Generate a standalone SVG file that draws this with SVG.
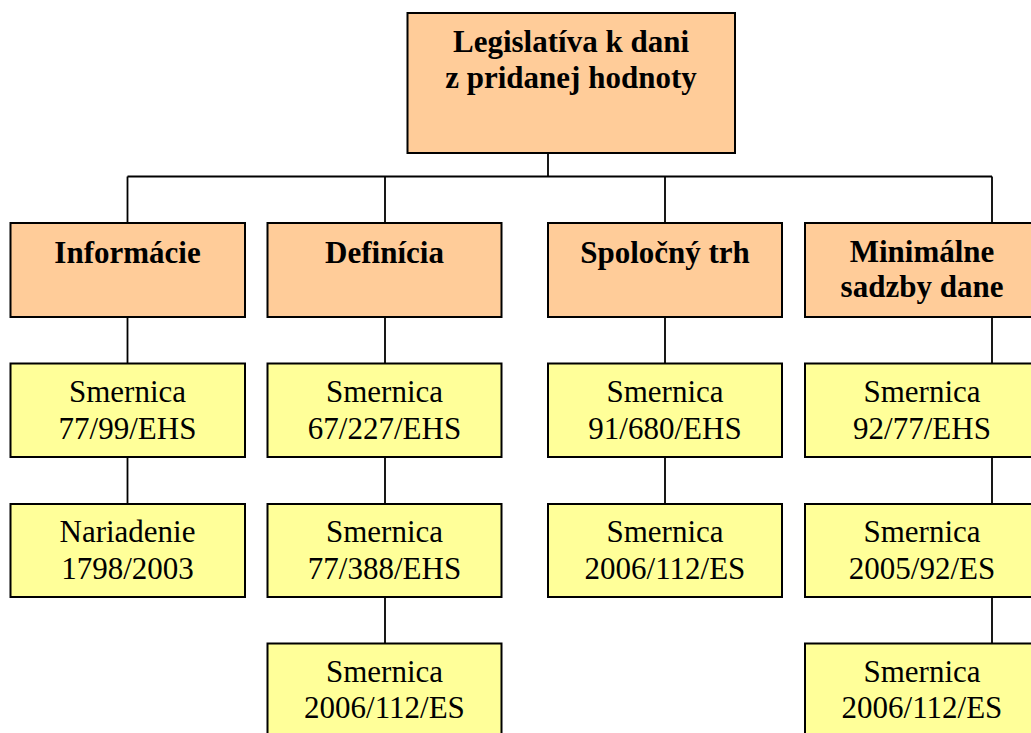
<svg xmlns="http://www.w3.org/2000/svg" width="1031" height="733" viewBox="0 0 1031 733">
<style>
.o{fill:#FFCC99;stroke:#000;stroke-width:2}
.y{fill:#FFFF99;stroke:#000;stroke-width:2}
.b{font-family:"Liberation Serif","Times New Roman",serif;font-weight:bold;font-size:31px;text-anchor:middle;fill:#000}
.r{font-family:"Liberation Serif","Times New Roman",serif;font-size:31px;text-anchor:middle;fill:#000}
.c{stroke:#000;stroke-width:1.8;fill:none}
</style>
<rect width="1031" height="733" fill="#fff"/>
<g id="connectors" class="c">
<path d="M548 153V176.5M127.5 176.5H992M127.5 176.5V223M385 176.5V223M665 176.5V223M992 176.5V223"/>
<path d="M127.5 317V363.5M127.5 457V504"/>
<path d="M385 317V363.5M385 457V504M385 597V643.5"/>
<path d="M665 317V363.5M665 457V504"/>
<path d="M992 317V363.5M992 457V504M992 597V643.5"/>
</g>
<g id="root"><rect class="o" x="407.5" y="13" width="327.5" height="140"/><text class="b" x="571" y="52">Legislatíva k dani</text><text class="b" x="571" y="87.5">z pridanej hodnoty</text></g>
<g id="informacie"><rect class="o" x="10.5" y="223" width="234.5" height="94"/><text class="b" x="127.5" y="263">Informácie</text></g>
<g id="definicia"><rect class="o" x="267.5" y="223" width="234" height="94"/><text class="b" x="384.5" y="263">Definícia</text></g>
<g id="spolocny"><rect class="o" x="548" y="223" width="234" height="94"/><text class="b" x="665" y="263">Spoločný trh</text></g>
<g id="minimalne"><rect class="o" x="805" y="223" width="234" height="94"/><text class="b" x="922" y="262">Minimálne</text><text class="b" x="922" y="297">sadzby dane</text></g>
<g id="c1a"><rect class="y" x="10.5" y="363.5" width="234.5" height="93.5"/><text class="r" x="127.5" y="401.5">Smernica</text><text class="r" x="127.5" y="439">77/99/EHS</text></g>
<g id="c1b"><rect class="y" x="10.5" y="504" width="234.5" height="93"/><text class="r" x="127.5" y="541.5">Nariadenie</text><text class="r" x="127.5" y="578.5">1798/2003</text></g>
<g id="c2a"><rect class="y" x="267.5" y="363.5" width="234" height="93.5"/><text class="r" x="384.5" y="401.5">Smernica</text><text class="r" x="384.5" y="439">67/227/EHS</text></g>
<g id="c2b"><rect class="y" x="267.5" y="504" width="234" height="93"/><text class="r" x="384.5" y="541.5">Smernica</text><text class="r" x="384.5" y="578.5">77/388/EHS</text></g>
<g id="c2c"><rect class="y" x="267.5" y="643.5" width="234" height="93.5"/><text class="r" x="384.5" y="681.5">Smernica</text><text class="r" x="384.5" y="717.5">2006/112/ES</text></g>
<g id="c3a"><rect class="y" x="548" y="363.5" width="234" height="93.5"/><text class="r" x="665" y="401.5">Smernica</text><text class="r" x="665" y="439">91/680/EHS</text></g>
<g id="c3b"><rect class="y" x="548" y="504" width="234" height="93"/><text class="r" x="665" y="541.5">Smernica</text><text class="r" x="665" y="578.5">2006/112/ES</text></g>
<g id="c4a"><rect class="y" x="805" y="363.5" width="234" height="93.5"/><text class="r" x="922" y="401.5">Smernica</text><text class="r" x="922" y="439">92/77/EHS</text></g>
<g id="c4b"><rect class="y" x="805" y="504" width="234" height="93"/><text class="r" x="922" y="541.5">Smernica</text><text class="r" x="922" y="578.5">2005/92/ES</text></g>
<g id="c4c"><rect class="y" x="805" y="643.5" width="234" height="93.5"/><text class="r" x="922" y="681.5">Smernica</text><text class="r" x="922" y="717.5">2006/112/ES</text></g>
</svg>
